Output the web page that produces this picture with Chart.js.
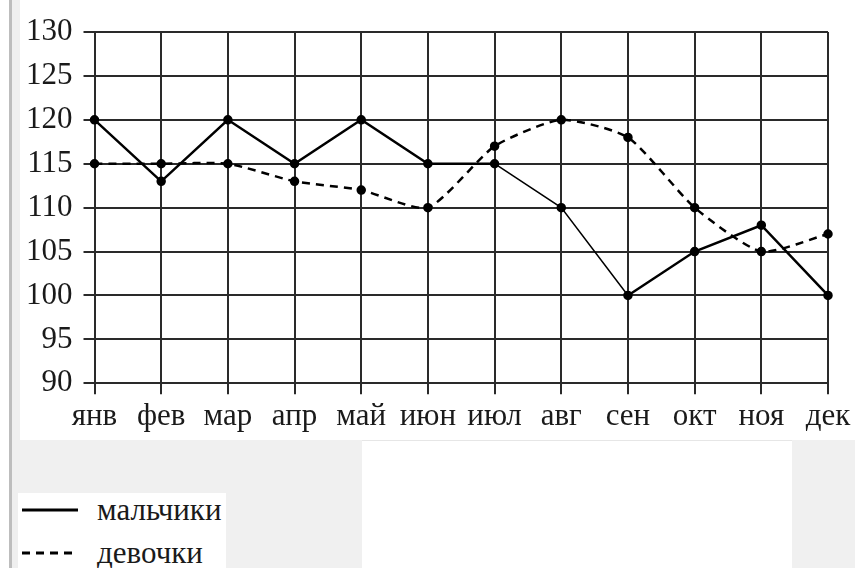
<!DOCTYPE html>
<html>
<head>
<meta charset="utf-8">
<script src="https://cdn.jsdelivr.net/npm/chart.js@4.4.1/dist/chart.umd.min.js"></script>
<style>
    html, body { margin: 0; padding: 0; }
    body { width: 855px; height: 568px; position: relative; overflow: hidden; background: #fff; font-family: 'Liberation Serif', 'Times New Roman', serif; }
    .bg { position: absolute; }
    #chartBox { position: absolute; left: 0; top: 0; width: 855px; height: 440px; }
    #legend { position: absolute; left: 18px; top: 493px; width: 208px; height: 75px; background: #fff; }
    .item { position: absolute; left: 0; height: 36px; width: 208px; }
    .item svg { position: absolute; left: 4px; top: 12px; }
    .item span { position: absolute; left: 79px; top: 0; font-size: 31px; line-height: 36px; color: #1a1a1a; }
</style>
</head>
<body>
<div class="bg" style="left:12px;top:0;width:8px;height:568px;background:#efefef"></div>
<div class="bg" style="left:9px;top:0;width:3px;height:568px;background:#bdbdbd"></div>
<div class="bg" style="left:20px;top:440px;width:342px;height:128px;background:#f0f0f0"></div>
<div class="bg" style="left:792px;top:440px;width:63px;height:128px;background:#f0f0f0"></div>
<div class="bg" style="left:362px;top:440px;width:430px;height:1px;background:#e6e6e6"></div>
<div id="chartBox"><canvas id="chart"></canvas></div>
<div id="legend"></div>
<script>
const months = ['янв', 'фев', 'мар', 'апр', 'май', 'июн', 'июл', 'авг', 'сен', 'окт', 'ноя', 'дек'];
const boys = [120, 113, 120, 115, 120, 115, 115, 110, 100, 105, 108, 100];
const girls = [115, 115, 115, 113, 112, 110, 117, 120, 118, 110, 105, 107];
const yMin = 90;
const yMax = 130;
const yStep = 5;

document.addEventListener('DOMContentLoaded', function () {
    const ctx = document.getElementById('chart').getContext('2d');
    const serif = "'Liberation Serif', 'Times New Roman', serif";

    const chart = new Chart(ctx, {
        type: 'line',
        data: {
            labels: months,
            datasets: [{
                label: 'мальчики',
                data: boys,
                borderColor: '#000',
                backgroundColor: '#000',
                borderWidth: 2.5,
                pointRadius: 3.5,
                pointBackgroundColor: '#000',
                tension: 0,
                segment: {
                    // the two falling segments are drawn thinner in the original
                    borderWidth: c => (c.p0DataIndex === 6 || c.p0DataIndex === 7) ? 1.5 : 2.5
                }
            }, {
                label: 'девочки',
                data: girls,
                borderColor: '#000',
                backgroundColor: '#000',
                borderWidth: 2.5,
                borderDash: [8, 6],
                pointRadius: 3.5,
                pointBackgroundColor: '#000',
                tension: 0.2
            }]
        },
        options: {
            responsive: true,
            maintainAspectRatio: false,
            animation: false,
            layout: { padding: { left: 20, top: 32, right: 27, bottom: 0 } },
            plugins: {
                legend: { display: false },
                tooltip: { enabled: false }
            },
            scales: {
                x: {
                    offset: false,
                    grid: { color: '#2a2a2a', lineWidth: 2, tickLength: 11 },
                    border: { color: '#2a2a2a', width: 2 },
                    ticks: {
                        color: '#1a1a1a',
                        font: { family: serif, size: 31 },
                        padding: 4,
                        maxRotation: 0,
                        autoSkip: false
                    },
                    afterFit: function (scale) { scale.height = 56.7; }
                },
                y: {
                    min: yMin,
                    max: yMax,
                    grid: { color: '#2a2a2a', lineWidth: 2, tickLength: 11 },
                    border: { color: '#2a2a2a', width: 2 },
                    ticks: {
                        stepSize: yStep,
                        color: '#1a1a1a',
                        font: { family: serif, size: 31 },
                        padding: 11
                    },
                    afterFit: function (scale) { scale.width = 74.5; }
                }
            }
        }
    });

    // html legend built from the datasets
    const legend = document.getElementById('legend');
    const rowTops = [-1, 42];
    chart.data.datasets.forEach((ds, i) => {
        const dash = ds.borderDash ? 'stroke-dasharray="8,6"' : '';
        legend.innerHTML += `<div class="item" style="top:${rowTops[i]}px">
            <svg width="60" height="12"><line x1="0" y1="6" x2="56" y2="6" stroke="#000" stroke-width="3" ${dash}/></svg>
            <span>${ds.label}</span>
        </div>`;
    });
});
</script>
</body>
</html>
